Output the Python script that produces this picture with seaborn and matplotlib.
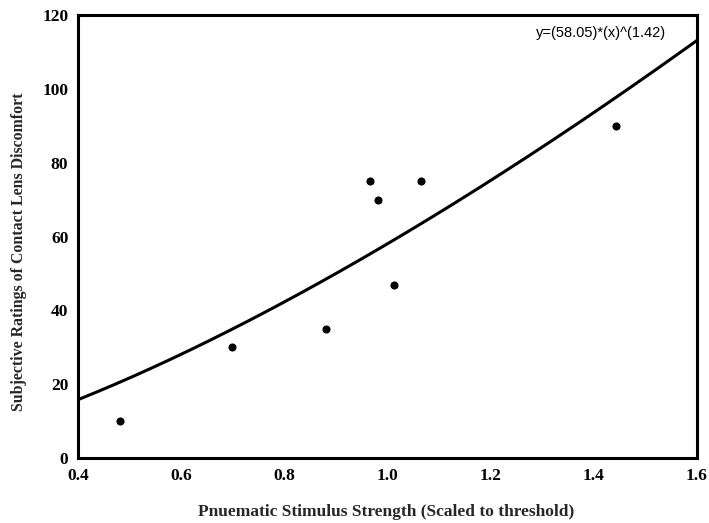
import numpy as np
import pandas as pd
import matplotlib
matplotlib.use("Agg")
import matplotlib.pyplot as plt
import seaborn as sns

# Data
stimulus = [0.482, 0.698, 0.881, 0.966, 0.981, 1.013, 1.065, 1.443]
rating = [10, 30, 35, 75, 70, 47, 75, 90]

# Fitted power curve shown on the chart
fit_a = 58.05
fit_b = 1.42
fit_label = "y=(58.05)*(x)^(1.42)"

x_ticks = [0.4, 0.6, 0.8, 1.0, 1.2, 1.4, 1.6]
x_tick_labels = ["0.4", "0.6", "0.8", "1.0", "1.2", "1.4", "1.6"]
y_ticks = [0, 20, 40, 60, 80, 100, 120]
y_tick_labels = ["0", "20", "40", "60", "80", "100", "120"]

sns.set_theme(style="white")
plt.rcParams["font.family"] = ["Liberation Serif", "DejaVu Serif"]

df = pd.DataFrame({"x": stimulus, "y": rating})
xs = np.linspace(0.4, 1.6, 200)
curve = pd.DataFrame({"x": xs, "y": fit_a * xs ** fit_b})

fig = plt.figure(figsize=(7.09, 5.23), dpi=100)
ax = fig.add_axes([0.110, 0.1243, 0.873, 0.8467])

sns.lineplot(data=curve, x="x", y="y", ax=ax, color="black", linewidth=2.2)
sns.scatterplot(data=df, x="x", y="y", ax=ax, color="black", s=34,
                edgecolor="black", linewidth=0, zorder=3)

ax.set_xlim(0.4, 1.6)
ax.set_ylim(0, 120)
ax.set_xticks(x_ticks)
ax.set_xticklabels(x_tick_labels)
ax.set_yticks(y_ticks)
ax.set_yticklabels(y_tick_labels)
ax.tick_params(direction="in", length=3, width=1.5, colors="black",
               labelsize=12.5, pad=7)
for lab in ax.get_xticklabels() + ax.get_yticklabels():
    lab.set_fontweight("bold")

for sp in ax.spines.values():
    sp.set_visible(True)
    sp.set_color("black")
    sp.set_linewidth(2.2)

ax.set_xlabel("Pnuematic Stimulus Strength (Scaled to threshold)",
              fontsize=12.5, fontweight="bold", va="center", ha="center")
ax.xaxis.set_label_coords(0.4984, -0.1219)
ax.set_ylabel("Subjective Ratings of Contact Lens Discomfort",
              fontsize=11.4, fontweight="bold", va="center", ha="center")
ax.yaxis.set_label_coords(-0.0961, 0.466)

ax.text(0.845, 0.9605, fit_label, transform=ax.transAxes, ha="center",
        va="center", fontsize=10.5, family=["Liberation Sans", "DejaVu Sans"],
        color="black")

fig.savefig("out.png", dpi=100)
